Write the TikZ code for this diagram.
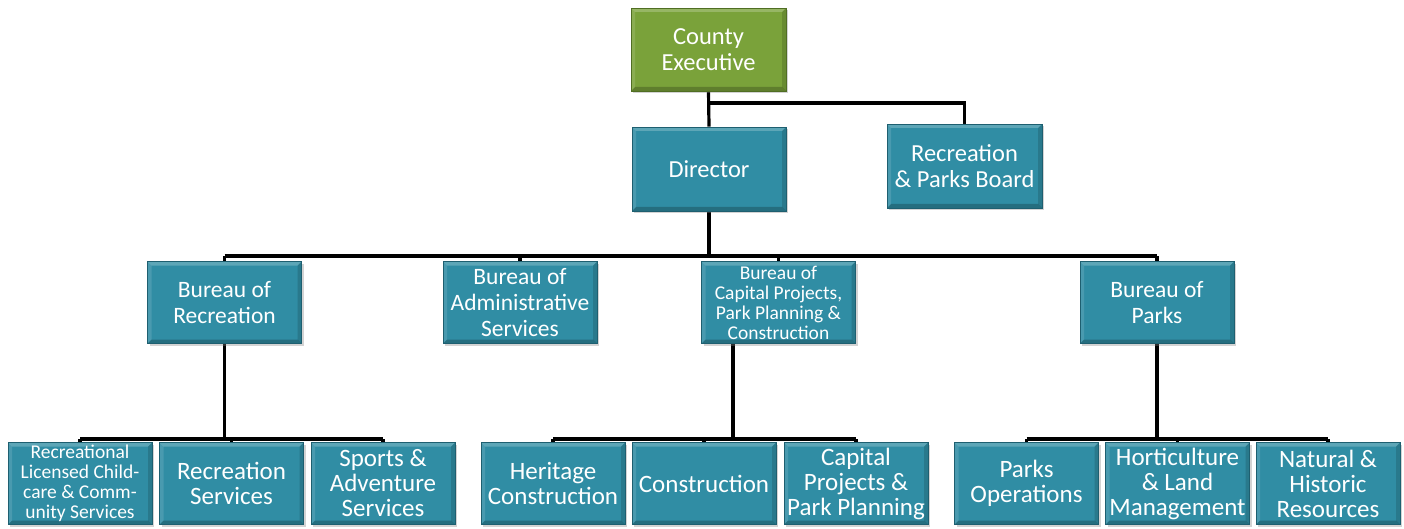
\documentclass[tikz,border=0pt]{standalone}
\usepackage{fontspec}
\setmainfont{Carlito}
\usetikzlibrary{shadows,backgrounds}
\definecolor{tealbox}{RGB}{48,141,164}
\definecolor{tealedge}{RGB}{30,95,112}
\definecolor{greenbox}{RGB}{122,162,58}
\definecolor{greenedge}{RGB}{80,110,35}
\tikzset{
  orgbox/.style={rectangle, inner sep=0pt, minimum width=154pt, minimum height=82pt,
    fill=tealbox, draw=tealedge, line width=0.8pt, text=white, align=center,
    font=\fontsize{23.5}{26}\selectfont,
    drop shadow={opacity=0.35, shadow xshift=2pt, shadow yshift=-2pt},
    path picture={
      \fill[white,opacity=0.22] (path picture bounding box.north west) -- (path picture bounding box.north east)
        -- ([xshift=-4pt,yshift=-4pt]path picture bounding box.north east) -- ([xshift=4pt,yshift=-4pt]path picture bounding box.north west) -- cycle;
      \fill[white,opacity=0.12] (path picture bounding box.north west) -- (path picture bounding box.south west)
        -- ([xshift=4pt,yshift=4pt]path picture bounding box.south west) -- ([xshift=4pt,yshift=-4pt]path picture bounding box.north west) -- cycle;
      \fill[black,opacity=0.22] (path picture bounding box.south west) -- (path picture bounding box.south east)
        -- ([xshift=-4pt,yshift=4pt]path picture bounding box.south east) -- ([xshift=4pt,yshift=4pt]path picture bounding box.south west) -- cycle;
      \fill[black,opacity=0.14] (path picture bounding box.north east) -- (path picture bounding box.south east)
        -- ([xshift=-4pt,yshift=4pt]path picture bounding box.south east) -- ([xshift=-4pt,yshift=-4pt]path picture bounding box.north east) -- cycle;
    }},
  topbox/.style={orgbox, font=\fontsize{24.5}{26}\selectfont},
  greenorg/.style={topbox, fill=greenbox, draw=greenedge},
  smallbox/.style={orgbox, minimum width=144pt, font=\fontsize{25}{25}\selectfont},
  tight/.style={font=\fontsize{19.5}{20}\selectfont},
  conn/.style={draw=black, line width=3.2pt},
}
\begin{document}
\begin{tikzpicture}[x=1pt,y=-1pt]
\useasboundingbox (0,0) rectangle (1404,529);
% level 0/1
\node[greenorg, minimum width=155pt, minimum height=83pt] (ce) at (708.5,49.5) {County\\Executive};
\node[topbox, minimum height=84pt] (dir) at (709,169) {Director};
\node[topbox, minimum width=155pt, minimum height=84pt] (board) at (964.5,166) {Recreation\\\& Parks Board};
% level 2
\node[orgbox] (br) at (224.5,302.5) {Bureau of\\Recreation};
\node[orgbox] (ba) at (520,302.5) {Bureau of\\Administrative\\Services};
\node[orgbox, tight] (bc) at (778.5,302.5) {Bureau of\\Capital Projects,\\Park Planning \&\\Construction};
\node[orgbox] (bp) at (1157,302.5) {Bureau of\\Parks};
% level 3
\node[smallbox, tight] (rl) at (80,483.5) {Recreational\\Licensed Child-\\care \& Comm-\\unity Services};
\node[smallbox] (rs) at (231.5,483.5) {Recreation\\Services};
\node[smallbox] (sa) at (383,483.5) {Sports \&\\Adventure\\Services};
\node[smallbox] (hc) at (553,483.5) {Heritage\\Construction};
\node[smallbox] (co) at (704,483.5) {Construction};
\node[smallbox] (cp) at (856,483.5) {Capital\\Projects \&\\Park Planning};
\node[smallbox] (po) at (1026.5,483.5) {Parks\\Operations};
\node[smallbox] (hl) at (1177.5,483.5) {Horticulture\\\& Land\\Management};
\node[smallbox] (nh) at (1328,483.5) {Natural \&\\Historic\\Resources};
% junction coordinates
\coordinate (j0) at (708.5,103);
\coordinate (b1) at (709,256);
\coordinate (b2) at (224.5,439);
\coordinate (b3) at (733,439);
\coordinate (b3top) at (733,343.5);
\coordinate (b4) at (1157,439);
\begin{scope}[on background layer]
\draw[conn] (ce.south) -- (dir.north);
\draw[conn] (j0) -| (board.north);
\draw[conn] (dir.south) -- (b1);
\draw[conn] (br.north |- b1) -- (bp.north |- b1);
\foreach \n in {br,ba,bc,bp} \draw[conn] (\n.north |- b1) -- (\n.north);
\draw[conn] (br.south) -- (b2);
\draw[conn] (rl.north |- b2) -- (sa.north |- b2);
\foreach \n in {rl,rs,sa} \draw[conn] (\n.north |- b2) -- (\n.north);
\draw[conn] (b3top) -- (b3);
\draw[conn] (hc.north |- b3) -- (cp.north |- b3);
\foreach \n in {hc,co,cp} \draw[conn] (\n.north |- b3) -- (\n.north);
\draw[conn] (bp.south) -- (b4);
\draw[conn] (po.north |- b4) -- (nh.north |- b4);
\foreach \n in {po,hl,nh} \draw[conn] (\n.north |- b4) -- (\n.north);
\end{scope}
\end{tikzpicture}
\end{document}
